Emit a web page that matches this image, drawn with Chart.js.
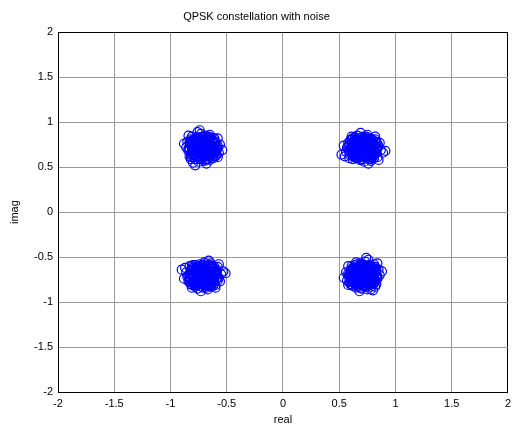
<!DOCTYPE html>
<html>
<head>
<meta charset="utf-8">
<script src="https://cdn.jsdelivr.net/npm/chart.js@4"></script>
<style>
  body { margin: 0; background: #fff; }
</style>
</head>
<body>
<canvas id="qpskChart" width="516" height="427"></canvas>
<script>
// received symbols, one pair of arrays per constellation point
var urReal = [0.71,0.74,0.67,0.77,0.69,0.72,0.64,0.79,0.66,0.75,0.62,0.73,0.81,0.68,0.78,0.63,0.76,0.70,0.83,0.60,
  0.71,0.65,0.80,0.85,0.58,0.74,0.67,0.73,0.69,0.77,0.61,0.82,0.64,0.87,0.56,0.72,0.75,0.59,0.84,0.79,
  0.68,0.76,0.65,0.71,0.72,0.62,0.81,0.57,0.86,0.66,0.78,0.74,0.70,0.63,0.80,0.73,0.67,0.77,0.59,0.83,
  0.89,0.54,0.69,0.76,0.55,0.85,0.61,0.82,0.71,0.68,0.91,0.52,0.75,0.64,0.78,0.70,0.79,0.60,0.84,0.65,
  0.72,0.70,0.73,0.68,0.75,0.67,0.71,0.71,0.76,0.66,0.74,0.65,0.77,0.69,0.78,0.64,0.72,0.70,0.75,0.67,
  0.79,0.63,0.73,0.68,0.77,0.65,0.76,0.66,0.80,0.62,0.74,0.69,0.81,0.61,0.71,0.73,0.79,0.63,0.82,0.60,
  0.78,0.64,0.75,0.67,0.83,0.59,0.72,0.80,0.62,0.74,0.68,0.76,0.66,0.73,0.70,0.77,0.65,0.71,0.81,0.61,
  0.77,0.64,0.74,0.69,0.64,0.78,0.71,0.70,0.80,0.62,0.80,0.62,0.66,0.76,0.82,0.59,0.77,0.65,0.67,0.74,
  0.69,0.74,0.66,0.75,0.71,0.72,0.77,0.65,0.79,0.64,0.64,0.78,0.83,0.59,0.71,0.70,0.84,0.58,0.79,0.63,
  0.75,0.68,0.68,0.76,0.65,0.77,0.61,0.82,0.62,0.81];
var urImag = [0.71,0.69,0.72,0.75,0.65,0.78,0.68,0.70,0.76,0.64,0.73,0.80,0.74,0.61,0.79,0.63,0.67,0.75,0.66,0.70,
  0.59,0.81,0.62,0.73,0.77,0.84,0.67,0.69,0.73,0.59,0.65,0.81,0.83,0.69,0.67,0.56,0.86,0.60,0.61,0.74,
  0.78,0.72,0.70,0.76,0.63,0.59,0.65,0.72,0.77,0.85,0.57,0.75,0.68,0.77,0.77,0.66,0.80,0.82,0.75,0.70,
  0.66,0.74,0.88,0.54,0.62,0.58,0.84,0.84,0.81,0.58,0.68,0.64,0.61,0.65,0.66,0.83,0.60,0.80,0.76,0.74,
  0.72,0.70,0.68,0.73,0.71,0.69,0.74,0.67,0.76,0.66,0.77,0.68,0.69,0.77,0.72,0.71,0.65,0.79,0.66,0.76,
  0.76,0.67,0.79,0.64,0.78,0.77,0.63,0.63,0.68,0.74,0.62,0.62,0.72,0.69,0.61,0.82,0.64,0.79,0.67,0.76,
  0.62,0.61,0.81,0.60,0.73,0.68,0.83,0.80,0.62,0.74,0.68,0.73,0.72,0.75,0.66,0.65,0.64,0.78,0.61,0.81,
  0.73,0.69,0.78,0.64,0.76,0.66,0.80,0.62,0.71,0.72,0.77,0.65,0.81,0.61,0.74,0.68,0.82,0.60,0.79,0.63,
  0.75,0.67,0.74,0.69,0.77,0.65,0.72,0.70,0.79,0.63,0.83,0.59,0.78,0.64,0.84,0.58,0.71,0.73,0.81,0.61,
  0.76,0.66,0.75,0.68,0.80,0.62,0.77,0.65,0.82,0.60];

var ulReal = [-0.71,-0.73,-0.70,-0.67,-0.77,-0.64,-0.74,-0.72,-0.66,-0.78,-0.69,-0.62,-0.68,-0.81,-0.63,-0.79,-0.75,-0.67,-0.76,-0.72,
  -0.83,-0.61,-0.80,-0.69,-0.65,-0.58,-0.75,-0.73,-0.69,-0.83,-0.77,-0.61,-0.59,-0.73,-0.75,-0.86,-0.56,-0.82,-0.81,-0.68,
  -0.64,-0.70,-0.72,-0.66,-0.79,-0.83,-0.77,-0.70,-0.65,-0.57,-0.85,-0.67,-0.74,-0.65,-0.65,-0.76,-0.62,-0.60,-0.67,-0.72,
  -0.76,-0.68,-0.54,-0.88,-0.80,-0.84,-0.58,-0.58,-0.61,-0.84,-0.74,-0.78,-0.81,-0.77,-0.76,-0.59,-0.82,-0.62,-0.66,-0.68,
  -0.70,-0.72,-0.74,-0.69,-0.71,-0.73,-0.68,-0.75,-0.66,-0.76,-0.65,-0.74,-0.73,-0.65,-0.70,-0.71,-0.77,-0.63,-0.76,-0.66,
  -0.66,-0.75,-0.63,-0.78,-0.64,-0.65,-0.79,-0.79,-0.74,-0.68,-0.80,-0.80,-0.70,-0.73,-0.81,-0.60,-0.78,-0.63,-0.75,-0.66,
  -0.80,-0.81,-0.61,-0.82,-0.69,-0.74,-0.59,-0.62,-0.80,-0.68,-0.74,-0.69,-0.70,-0.67,-0.76,-0.77,-0.78,-0.64,-0.81,-0.61,
  -0.69,-0.73,-0.64,-0.78,-0.66,-0.76,-0.62,-0.80,-0.71,-0.70,-0.65,-0.77,-0.61,-0.81,-0.68,-0.74,-0.60,-0.82,-0.63,-0.79,
  -0.67,-0.75,-0.68,-0.73,-0.65,-0.77,-0.70,-0.72,-0.63,-0.79,-0.59,-0.83,-0.64,-0.78,-0.58,-0.84,-0.71,-0.69,-0.61,-0.81,
  -0.66,-0.76,-0.67,-0.74,-0.62,-0.80,-0.65,-0.77,-0.60,-0.82];
var ulImag = [0.71,0.74,0.67,0.77,0.69,0.72,0.64,0.79,0.66,0.75,0.62,0.73,0.81,0.68,0.78,0.63,0.76,0.70,0.83,0.60,
  0.71,0.65,0.80,0.85,0.58,0.74,0.67,0.73,0.69,0.77,0.61,0.82,0.64,0.87,0.56,0.72,0.75,0.59,0.84,0.79,
  0.68,0.76,0.65,0.71,0.72,0.62,0.81,0.57,0.86,0.66,0.78,0.74,0.70,0.63,0.80,0.73,0.67,0.77,0.59,0.83,
  0.89,0.54,0.69,0.76,0.55,0.85,0.61,0.82,0.71,0.68,0.91,0.52,0.75,0.64,0.78,0.70,0.79,0.60,0.84,0.65,
  0.70,0.72,0.69,0.74,0.67,0.75,0.71,0.71,0.66,0.76,0.68,0.77,0.65,0.73,0.64,0.78,0.70,0.72,0.67,0.75,
  0.63,0.79,0.69,0.74,0.65,0.77,0.66,0.76,0.62,0.80,0.68,0.73,0.61,0.81,0.71,0.69,0.63,0.79,0.60,0.82,
  0.64,0.78,0.67,0.75,0.59,0.83,0.70,0.62,0.80,0.68,0.74,0.66,0.76,0.69,0.72,0.65,0.77,0.71,0.61,0.81,
  0.77,0.64,0.74,0.69,0.64,0.78,0.71,0.70,0.80,0.62,0.80,0.62,0.66,0.76,0.82,0.59,0.77,0.65,0.67,0.74,
  0.69,0.74,0.66,0.75,0.71,0.72,0.77,0.65,0.79,0.64,0.64,0.78,0.83,0.59,0.71,0.70,0.84,0.58,0.79,0.63,
  0.75,0.68,0.68,0.76,0.65,0.77,0.61,0.82,0.62,0.81];

var llReal = [-0.71,-0.68,-0.75,-0.65,-0.73,-0.70,-0.78,-0.63,-0.76,-0.67,-0.80,-0.69,-0.61,-0.74,-0.64,-0.79,-0.66,-0.72,-0.59,-0.82,
  -0.71,-0.77,-0.62,-0.57,-0.84,-0.68,-0.75,-0.69,-0.73,-0.65,-0.81,-0.60,-0.78,-0.55,-0.86,-0.70,-0.67,-0.83,-0.58,-0.63,
  -0.74,-0.66,-0.77,-0.71,-0.70,-0.80,-0.61,-0.85,-0.56,-0.76,-0.64,-0.68,-0.72,-0.79,-0.62,-0.69,-0.75,-0.65,-0.83,-0.59,
  -0.53,-0.88,-0.73,-0.66,-0.87,-0.57,-0.81,-0.60,-0.71,-0.74,-0.51,-0.90,-0.67,-0.78,-0.64,-0.72,-0.63,-0.82,-0.58,-0.77,
  -0.72,-0.70,-0.73,-0.68,-0.75,-0.67,-0.71,-0.71,-0.76,-0.66,-0.74,-0.65,-0.77,-0.69,-0.78,-0.64,-0.72,-0.70,-0.75,-0.67,
  -0.79,-0.63,-0.73,-0.68,-0.77,-0.65,-0.76,-0.66,-0.80,-0.62,-0.74,-0.69,-0.81,-0.61,-0.71,-0.73,-0.79,-0.63,-0.82,-0.60,
  -0.78,-0.64,-0.75,-0.67,-0.83,-0.59,-0.72,-0.80,-0.62,-0.74,-0.68,-0.76,-0.66,-0.73,-0.70,-0.77,-0.65,-0.71,-0.81,-0.61,
  -0.77,-0.64,-0.74,-0.69,-0.64,-0.78,-0.71,-0.70,-0.80,-0.62,-0.80,-0.62,-0.66,-0.76,-0.82,-0.59,-0.77,-0.65,-0.67,-0.74,
  -0.69,-0.74,-0.66,-0.75,-0.71,-0.72,-0.77,-0.65,-0.79,-0.64,-0.64,-0.78,-0.83,-0.59,-0.71,-0.70,-0.84,-0.58,-0.79,-0.63,
  -0.75,-0.68,-0.68,-0.76,-0.65,-0.77,-0.61,-0.82,-0.62,-0.81];
var llImag = [-0.71,-0.69,-0.72,-0.75,-0.65,-0.78,-0.68,-0.70,-0.76,-0.64,-0.73,-0.80,-0.74,-0.61,-0.79,-0.63,-0.67,-0.75,-0.66,-0.70,
  -0.59,-0.81,-0.62,-0.73,-0.77,-0.84,-0.67,-0.69,-0.73,-0.59,-0.65,-0.81,-0.83,-0.69,-0.67,-0.56,-0.86,-0.60,-0.61,-0.74,
  -0.78,-0.72,-0.70,-0.76,-0.63,-0.59,-0.65,-0.72,-0.77,-0.85,-0.57,-0.75,-0.68,-0.77,-0.77,-0.66,-0.80,-0.82,-0.75,-0.70,
  -0.66,-0.74,-0.88,-0.54,-0.62,-0.58,-0.84,-0.84,-0.81,-0.58,-0.68,-0.64,-0.61,-0.65,-0.66,-0.83,-0.60,-0.80,-0.76,-0.74,
  -0.70,-0.72,-0.74,-0.69,-0.71,-0.73,-0.68,-0.75,-0.66,-0.76,-0.65,-0.74,-0.73,-0.65,-0.70,-0.71,-0.77,-0.63,-0.76,-0.66,
  -0.66,-0.75,-0.63,-0.78,-0.64,-0.65,-0.79,-0.79,-0.74,-0.68,-0.80,-0.80,-0.70,-0.73,-0.81,-0.60,-0.78,-0.63,-0.75,-0.66,
  -0.80,-0.81,-0.61,-0.82,-0.69,-0.74,-0.59,-0.62,-0.80,-0.68,-0.74,-0.69,-0.70,-0.67,-0.76,-0.77,-0.78,-0.64,-0.81,-0.61,
  -0.73,-0.69,-0.78,-0.64,-0.76,-0.66,-0.80,-0.62,-0.71,-0.72,-0.77,-0.65,-0.81,-0.61,-0.74,-0.68,-0.82,-0.60,-0.79,-0.63,
  -0.75,-0.67,-0.74,-0.69,-0.77,-0.65,-0.72,-0.70,-0.79,-0.63,-0.83,-0.59,-0.78,-0.64,-0.84,-0.58,-0.71,-0.73,-0.81,-0.61,
  -0.76,-0.66,-0.75,-0.68,-0.80,-0.62,-0.77,-0.65,-0.82,-0.60];

var lrReal = [0.71,0.73,0.70,0.67,0.77,0.64,0.74,0.72,0.66,0.78,0.69,0.62,0.68,0.81,0.63,0.79,0.75,0.67,0.76,0.72,
  0.83,0.61,0.80,0.69,0.65,0.58,0.75,0.73,0.69,0.83,0.77,0.61,0.59,0.73,0.75,0.86,0.56,0.82,0.81,0.68,
  0.64,0.70,0.72,0.66,0.79,0.83,0.77,0.70,0.65,0.57,0.85,0.67,0.74,0.65,0.65,0.76,0.62,0.60,0.67,0.72,
  0.76,0.68,0.54,0.88,0.80,0.84,0.58,0.58,0.61,0.84,0.74,0.78,0.81,0.77,0.76,0.59,0.82,0.62,0.66,0.68,
  0.70,0.72,0.74,0.69,0.71,0.73,0.68,0.75,0.66,0.76,0.65,0.74,0.73,0.65,0.70,0.71,0.77,0.63,0.76,0.66,
  0.66,0.75,0.63,0.78,0.64,0.65,0.79,0.79,0.74,0.68,0.80,0.80,0.70,0.73,0.81,0.60,0.78,0.63,0.75,0.66,
  0.80,0.81,0.61,0.82,0.69,0.74,0.59,0.62,0.80,0.68,0.74,0.69,0.70,0.67,0.76,0.77,0.78,0.64,0.81,0.61,
  0.69,0.73,0.64,0.78,0.66,0.76,0.62,0.80,0.71,0.70,0.65,0.77,0.61,0.81,0.68,0.74,0.60,0.82,0.63,0.79,
  0.67,0.75,0.68,0.73,0.65,0.77,0.70,0.72,0.63,0.79,0.59,0.83,0.64,0.78,0.58,0.84,0.71,0.69,0.61,0.81,
  0.66,0.76,0.67,0.74,0.62,0.80,0.65,0.77,0.60,0.82];
var lrImag = [-0.71,-0.68,-0.75,-0.65,-0.73,-0.70,-0.78,-0.63,-0.76,-0.67,-0.80,-0.69,-0.61,-0.74,-0.64,-0.79,-0.66,-0.72,-0.59,-0.82,
  -0.71,-0.77,-0.62,-0.57,-0.84,-0.68,-0.75,-0.69,-0.73,-0.65,-0.81,-0.60,-0.78,-0.55,-0.86,-0.70,-0.67,-0.83,-0.58,-0.63,
  -0.74,-0.66,-0.77,-0.71,-0.70,-0.80,-0.61,-0.85,-0.56,-0.76,-0.64,-0.68,-0.72,-0.79,-0.62,-0.69,-0.75,-0.65,-0.83,-0.59,
  -0.53,-0.88,-0.73,-0.66,-0.87,-0.57,-0.81,-0.60,-0.71,-0.74,-0.51,-0.86,-0.67,-0.78,-0.64,-0.72,-0.63,-0.82,-0.58,-0.77,
  -0.70,-0.72,-0.69,-0.74,-0.67,-0.75,-0.71,-0.71,-0.66,-0.76,-0.68,-0.77,-0.65,-0.73,-0.64,-0.78,-0.70,-0.72,-0.67,-0.75,
  -0.63,-0.79,-0.69,-0.74,-0.65,-0.77,-0.66,-0.76,-0.62,-0.80,-0.68,-0.73,-0.61,-0.81,-0.71,-0.69,-0.63,-0.79,-0.60,-0.82,
  -0.64,-0.78,-0.67,-0.75,-0.59,-0.83,-0.70,-0.62,-0.80,-0.68,-0.74,-0.66,-0.76,-0.69,-0.72,-0.65,-0.77,-0.71,-0.61,-0.81,
  -0.65,-0.78,-0.68,-0.73,-0.78,-0.64,-0.71,-0.72,-0.62,-0.80,-0.62,-0.80,-0.76,-0.66,-0.60,-0.83,-0.65,-0.77,-0.75,-0.68,
  -0.73,-0.68,-0.76,-0.67,-0.71,-0.70,-0.65,-0.77,-0.63,-0.78,-0.78,-0.64,-0.59,-0.83,-0.71,-0.72,-0.58,-0.84,-0.63,-0.79,
  -0.67,-0.74,-0.74,-0.66,-0.77,-0.65,-0.81,-0.60,-0.80,-0.61];

var axisMin = -2;
var axisMax = 2;
var tickStep = 0.5;

function toPoints(re, im) {
  return re.map(function (x, i) { return { x: x, y: im[i] }; });
}
var symbols = [].concat(
  toPoints(urReal, urImag),
  toPoints(ulReal, ulImag),
  toPoints(llReal, llImag),
  toPoints(lrReal, lrImag)
);

Chart.defaults.font.family = '"Liberation Sans", Arial, Helvetica, sans-serif';
Chart.defaults.font.size = 11;
Chart.defaults.color = '#000';

function gridColor(edgeValue) {
  return function (c) {
    return c.tick && c.tick.value === edgeValue ? '#000' : '#999';
  };
}
function plainTick(v) { return String(v); }

var ctx = document.getElementById('qpskChart').getContext('2d');
var qpskChart = new Chart(ctx, {
  type: 'scatter',
  data: {
    datasets: [{
      label: 'received',
      data: symbols,
      pointStyle: 'circle',
      pointRadius: 4.5,
      pointHoverRadius: 4.5,
      borderWidth: 1.2,
      borderColor: '#0000ff',
      backgroundColor: 'rgba(0,0,0,0)'
    }]
  },
  options: {
    responsive: false,
    animation: false,
    layout: { padding: { top: 0, right: 3, bottom: 0, left: 0 } },
    plugins: {
      legend: { display: false },
      tooltip: { enabled: false },
      title: {
        display: true,
        text: 'QPSK constellation with noise',
        font: { size: 11, weight: 'normal' },
        padding: { top: 10, bottom: 9 }
      }
    },
    scales: {
      x: {
        type: 'linear',
        min: axisMin,
        max: axisMax,
        afterFit: function (s) { s.height = 35; },
        ticks: { stepSize: tickStep, padding: 5, maxRotation: 0, callback: plainTick },
        grid: { color: gridColor(axisMax), drawTicks: false, lineWidth: 1 },
        border: { color: '#000', width: 1 },
        title: { display: true, text: 'real', padding: { top: 0, bottom: 0 } }
      },
      y: {
        type: 'linear',
        min: axisMin,
        max: axisMax,
        afterFit: function (s) { s.width = 58; },
        ticks: { stepSize: tickStep, padding: 5, callback: plainTick },
        grid: { color: gridColor(axisMax), drawTicks: false, lineWidth: 1 },
        border: { color: '#000', width: 1 },
        title: { display: true, text: 'imag', padding: { top: 8, bottom: 0 } }
      }
    }
  }
});
</script>
</body>
</html>
